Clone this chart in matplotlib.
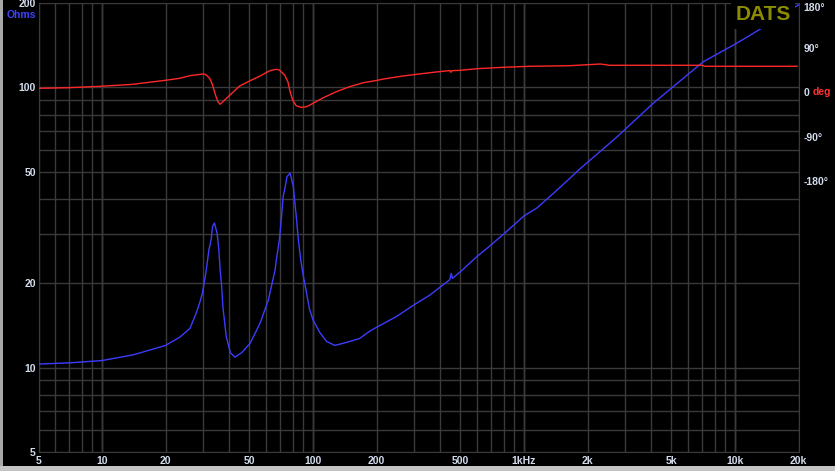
import numpy as np
import matplotlib
matplotlib.use("Agg")
import matplotlib.pyplot as plt
from matplotlib.patches import Rectangle
from matplotlib.ticker import FixedLocator, NullFormatter

# impedance curve (Hz, Ohms)
imp_freq = [5, 7, 10, 14, 20, 23.4, 26.1, 28, 29, 29.9, 31.2, 32.1, 32.9, 33.4, 34.1,
            35.1, 35.8, 36.3, 36.9, 37.4, 38.8, 40.6, 42.6, 45.9, 50.3, 56.1, 61.4,
            66.1, 67.0, 69.3, 70.7, 72.2, 73.9, 75.2, 77.9, 80.7, 82.4, 83.6, 85.2,
            87.5, 90, 93.3, 96.2, 100, 108, 116, 127, 144, 166, 186, 206, 248, 303,
            356, 412, 445, 452, 458, 500, 598, 682, 827, 1000, 1150, 1380, 1651,
            1815, 2750, 4100, 7080, 10190, 13620, 20000]
imp_ohms = [10.3, 10.4, 10.6, 11.1, 12.0, 12.85, 13.8, 15.7, 17.0, 18.4, 22.3, 26.3,
            28.6, 31.9, 32.8, 30.2, 26.3, 22.3, 19.5, 16.5, 12.9, 11.3, 10.9, 11.3,
            12.2, 14.4, 17.4, 22.3, 24.2, 28.6, 33.7, 40.8, 44.3, 48.0, 49.4, 44.3,
            37.5, 33.7, 28.6, 24.2, 21.2, 18.4, 16.2, 14.8, 13.3, 12.4, 12.0, 12.3,
            12.7, 13.5, 14.1, 15.2, 16.8, 18.1, 19.7, 20.6, 21.7, 20.8, 22.0, 24.9,
            27.0, 30.6, 34.8, 37.1, 41.9, 47.4, 50.7, 66.4, 87.8, 123.5, 143.7,
            163.8, 197]

# phase curve (Hz, degrees)
ph_freq = [5, 6.9, 9.8, 14, 20, 23.3, 26.1, 30.0, 30.9, 32.4, 33.4, 34.5, 35.4, 36.3,
           37.4, 40.4, 44.9, 50.3, 56.1, 62.4, 67.0, 69.3, 73.3, 76.0, 77.9, 80.1,
           83.2, 87.5, 93.3, 100, 112, 129, 149, 173, 200, 216, 267, 318, 382, 440,
           445, 450, 455, 500, 598, 799, 1070, 1640, 2000, 2300, 2550, 3000, 7000,
           7200, 19700]
ph_deg = [7.5, 8.7, 11.5, 15.6, 23.7, 27.7, 33.0, 36.4, 35.8, 27.7, 14.2, -6.1, -19.6,
          -24.9, -19.6, -6.1, 12.1, 22.8, 32.4, 43.1, 45.9, 44.5, 34.4, 20.8, 0.6,
          -16.2, -27.7, -31.0, -29.7, -22.9, -11.5, 0.6, 10.7, 18.8, 23.3, 26.3, 32.4,
          36.4, 40.4, 43.1, 43.9, 39.8, 43.1, 43.9, 47.1, 50.0, 52.0, 53.2, 55.2,
          56.6, 54.0, 54.0, 54.0, 52.0, 52.0]

x_ticks = [5, 10, 20, 50, 100, 200, 500, 1000, 2000, 5000, 10000, 20000]
x_labels = ["5", "10", "20", "50", "100", "200", "500", "1kHz", "2k", "5k", "10k", "20k"]
y_ticks = [5, 10, 20, 50, 100, 200]
ph_ticks = [180, 90, 0, -90, -180]
ph_labels = ["180°", "90°", "0", "-90°", "-180°"]

W, H = 835, 471
lbl_col = "#d4dcec"
grid_col = "#3a3a3a"
font = ["Liberation Sans", "DejaVu Sans"]

fig = plt.figure(figsize=(W / 100, H / 100), dpi=100, facecolor="black")
ax = fig.add_axes([38.5 / W, (H - 452) / H, 760 / W, 449 / H])
ax.set_facecolor("black")
ax.set_xscale("log")
ax.set_yscale("log")
ax.set_xlim(5, 20000)
ax.set_ylim(5, 200)

# grid
minor_x = [m * 10 ** e for e in range(0, 5) for m in range(1, 10)]
minor_x = [v for v in minor_x if 5 <= v <= 20000 and v not in x_ticks]
minor_y = [m * 10 ** e for e in range(0, 3) for m in range(1, 10)]
minor_y = [v for v in minor_y if 5 <= v <= 200 and v not in y_ticks]
ax.xaxis.set_major_locator(FixedLocator(x_ticks))
ax.xaxis.set_minor_locator(FixedLocator(minor_x))
ax.yaxis.set_major_locator(FixedLocator(y_ticks))
ax.yaxis.set_minor_locator(FixedLocator(minor_y))
ax.xaxis.set_minor_formatter(NullFormatter())
ax.yaxis.set_minor_formatter(NullFormatter())
ax.set_xticklabels(x_labels)
ax.set_yticklabels([str(v) for v in y_ticks])
ax.grid(True, which="both", color=grid_col, lw=1.0)
for d in [10, 100, 1000, 10000]:
    ax.axvline(d, color="#555555", lw=1.0, zorder=0.5)
ax.set_axisbelow(True)
ax.tick_params(which="both", length=0)
ax.tick_params(axis="x", pad=3, labelcolor=lbl_col, labelsize=7.5)
ax.tick_params(axis="y", pad=2, labelcolor=lbl_col, labelsize=7.5)
for t in ax.get_xticklabels() + ax.get_yticklabels():
    t.set_fontweight("bold")
    t.set_family(font)
for s in ax.spines.values():
    s.set_color(grid_col)

ax.plot(imp_freq, imp_ohms, color="#3c3cff", lw=1.0, zorder=3)

# phase on the right
ax2 = ax.twinx()
ax2.set_ylim(-728, 180)
ax2.set_yticks(ph_ticks)
ax2.set_yticklabels(ph_labels)
ax2.tick_params(length=0, pad=3.5, labelcolor=lbl_col, labelsize=7.5)
for t in ax2.get_yticklabels():
    t.set_fontweight("bold")
    t.set_family(font)
ax2.get_yticklabels()[0].set_va("top")
for s in ax2.spines.values():
    s.set_visible(False)
ax2.annotate("deg", xy=(1, 0), xycoords=("axes fraction", "data"),
             xytext=(10, 0), textcoords="offset points", va="center", ha="left",
             color="#ff3030", fontsize=7.5, fontweight="bold", family=font,
             annotation_clip=False)
ax2.plot(ph_freq, ph_deg, color="#ff2828", lw=1.0, zorder=3)

fig.text(36 / W, 1 - 15 / H, "Ohms", color="#4040ff", fontsize=7.5,
         fontweight="bold", ha="right", va="center", family=font)
fig.text(763 / W, 1 - 15 / H, "DATS", color="#8c8c00", fontsize=15,
         fontweight="bold", ha="center", va="center", family=font, zorder=10,
         bbox=dict(facecolor="black", edgecolor="none", pad=3))

# window frame
fig.patches.append(Rectangle((0, 0), 3 / W, 1, transform=fig.transFigure,
                             facecolor="#a8a8a8", edgecolor="none", zorder=-1))
fig.patches.append(Rectangle((0, 0), 1, 5 / H, transform=fig.transFigure,
                             facecolor="#c4c4c4", edgecolor="none", zorder=-1))

fig.savefig("out.png", dpi=100, facecolor="black")
